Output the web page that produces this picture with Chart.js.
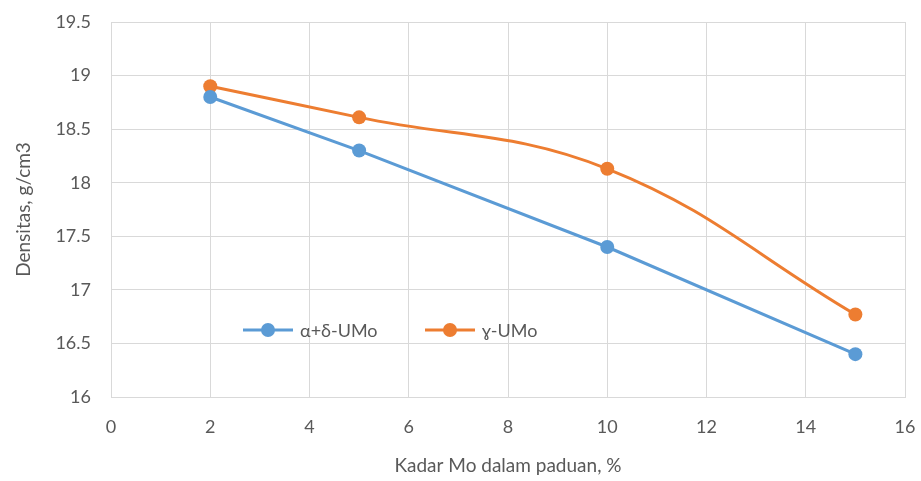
<!DOCTYPE html>
<html>
<head>
<meta charset="utf-8">
<script src="https://cdn.jsdelivr.net/npm/chart.js@4/dist/chart.umd.min.js"></script>
<style>
  html, body { margin: 0; padding: 0; background: #fff; }
  #wrap { width: 921px; height: 481px; position: relative; }
</style>
</head>
<body>
<div id="wrap"><canvas id="c"></canvas></div>
<script>
// Kadar Mo (%) vs densitas (g/cm3)
const moContent = [2, 5, 10, 15];
const alphaDeltaDensity = [18.8, 18.3, 17.4, 16.4];
const gammaDensity = [18.9, 18.61, 18.13, 16.77];
const seriesLabels = ['α+δ-UMo', 'ɣ-UMo'];
const xTicks = [0, 2, 4, 6, 8, 10, 12, 14, 16];
const yTicks = [16, 16.5, 17, 17.5, 18, 18.5, 19, 19.5];

const BLUE = '#5b9bd5';
const ORANGE = '#ed7d31';
const GRID = '#d9d9d9';
const TEXT = '#595959';
const FONT = "Lato, 'Open Sans', sans-serif";

// legend drawn inside the plot area, like the Excel original
const insideLegend = {
  id: 'insideLegend',
  afterDraw(chart) {
    const ctx = chart.ctx;
    const area = chart.chartArea;
    const y = area.top + 308;
    const items = [
      { x: area.left + 132, ds: chart.data.datasets[0] },
      { x: area.left + 314, ds: chart.data.datasets[1] }
    ];
    ctx.save();
    items.forEach(it => {
      ctx.strokeStyle = it.ds.borderColor;
      ctx.lineWidth = 3;
      ctx.beginPath();
      ctx.moveTo(it.x, y);
      ctx.lineTo(it.x + 50, y);
      ctx.stroke();
      ctx.fillStyle = it.ds.borderColor;
      ctx.beginPath();
      ctx.arc(it.x + 25, y, 7, 0, Math.PI * 2);
      ctx.fill();
      ctx.fillStyle = TEXT;
      ctx.font = '18px ' + FONT;
      ctx.textBaseline = 'middle';
      ctx.textAlign = 'left';
      ctx.fillText(it.ds.label, it.x + 57, y + 1);
    });
    ctx.restore();
  }
};

new Chart(document.getElementById('c'), {
  type: 'line',
  data: {
    datasets: [
      {
        label: seriesLabels[0],
        data: moContent.map((x, i) => ({ x: x, y: alphaDeltaDensity[i] })),
        borderColor: BLUE,
        backgroundColor: BLUE,
        borderWidth: 3,
        pointRadius: 7,
        pointBorderWidth: 0,
        tension: 0
      },
      {
        label: seriesLabels[1],
        data: moContent.map((x, i) => ({ x: x, y: gammaDensity[i] })),
        borderColor: ORANGE,
        backgroundColor: ORANGE,
        borderWidth: 3,
        pointRadius: 7,
        pointBorderWidth: 0,
        tension: 0.4
      }
    ]
  },
  options: {
    responsive: true,
    maintainAspectRatio: false,
    animation: false,
    layout: { padding: { top: 22, right: 16, left: 0, bottom: 0 } },
    plugins: {
      legend: { display: false },
      tooltip: { enabled: false }
    },
    scales: {
      x: {
        type: 'linear',
        min: 0,
        max: 16,
        afterBuildTicks: s => { s.ticks = xTicks.map(v => ({ value: v })); },
        afterFit: s => { s.height = 84; s.paddingLeft = 0; s.paddingRight = 0; },
        grid: { color: GRID, lineWidth: 1, drawTicks: false },
        border: { color: GRID },
        ticks: { color: TEXT, font: { family: FONT, size: 18 }, padding: 19 },
        title: {
          display: true,
          text: 'Kadar Mo dalam paduan, %',
          color: TEXT,
          font: { family: FONT, size: 19 },
          padding: { top: 6 }
        }
      },
      y: {
        type: 'linear',
        min: 16,
        max: 19.5,
        afterBuildTicks: s => { s.ticks = yTicks.map(v => ({ value: v })); },
        afterFit: s => { s.width = 111; s.paddingTop = 0; s.paddingBottom = 0; },
        grid: { color: GRID, lineWidth: 1, drawTicks: false },
        border: { color: GRID },
        ticks: {
          color: TEXT,
          font: { family: FONT, size: 18 },
          padding: 20,
          callback: v => String(v)
        },
        title: {
          display: true,
          text: 'Densitas, g/cm3',
          color: TEXT,
          font: { family: FONT, size: 19 },
          padding: { top: 12, bottom: 0 }
        }
      }
    }
  },
  plugins: [insideLegend]
});
</script>
</body>
</html>
